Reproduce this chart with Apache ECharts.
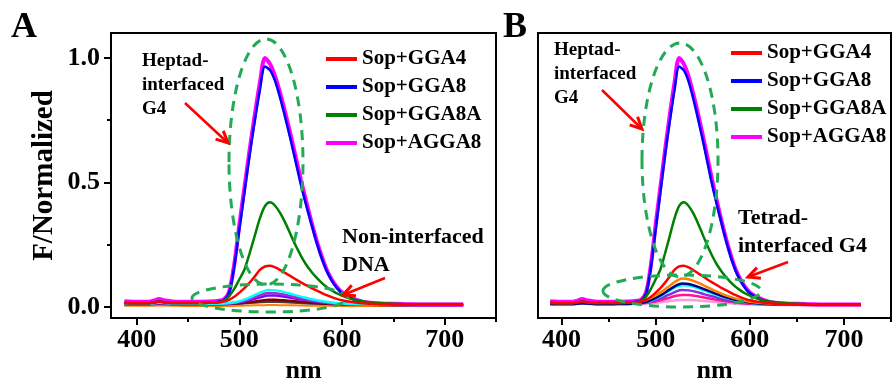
<!DOCTYPE html>
<html>
<head>
<meta charset="utf-8">
<script src="https://cdn.jsdelivr.net/npm/echarts@6/dist/echarts.min.js"></script>
<style>html,body{margin:0;padding:0;background:#fff}#c{width:893px;height:379px}</style>
</head>
<body>
<div id="c"></div>
<script>
// ---------- DATA ----------
const wl = [388, 400, 410, 416, 422, 428, 440, 455, 470,
  480, 485, 490, 495, 500, 505, 510, 515, 520, 525, 530, 535, 540, 545, 550, 555, 560,
  565, 570, 575, 580, 585, 590, 595, 600, 605, 610, 615, 620, 625, 630, 635, 640,
  660, 690, 718];
const sopAGGA8 = [0.022, 0.02, 0.02, 0.024, 0.031, 0.025, 0.02, 0.02, 0.021,
  0.024, 0.03, 0.06, 0.17, 0.33, 0.48, 0.63, 0.77, 0.9, 1.0, 0.975, 0.925, 0.855, 0.775, 0.69, 0.6, 0.51,
  0.425, 0.345, 0.27, 0.205, 0.15, 0.11, 0.08, 0.058, 0.045, 0.035, 0.027, 0.021, 0.017, 0.015, 0.014, 0.013,
  0.011, 0.009, 0.009];
const sopGGA8 = [0.015, 0.014, 0.014, 0.017, 0.021, 0.017, 0.015, 0.015, 0.016,
  0.02, 0.027, 0.055, 0.16, 0.31, 0.46, 0.61, 0.745, 0.87, 0.965, 0.95, 0.905, 0.835, 0.755, 0.67, 0.58, 0.49,
  0.41, 0.335, 0.262, 0.198, 0.145, 0.105, 0.076, 0.055, 0.042, 0.032, 0.025, 0.019, 0.015, 0.013, 0.012, 0.011,
  0.01, 0.008, 0.008];
const sopGGA8A = [0.015, 0.014, 0.014, 0.017, 0.021, 0.017, 0.015, 0.015, 0.016,
  0.018, 0.025, 0.042, 0.072, 0.11, 0.15, 0.215, 0.285, 0.355, 0.405, 0.42, 0.405, 0.375, 0.335, 0.29, 0.245, 0.205,
  0.17, 0.142, 0.118, 0.097, 0.08, 0.066, 0.054, 0.045, 0.037, 0.031, 0.026, 0.022, 0.019, 0.017, 0.015, 0.014,
  0.011, 0.009, 0.008];
const sopGGA4 = [0.015, 0.014, 0.014, 0.017, 0.021, 0.017, 0.015, 0.015, 0.016,
  0.018, 0.022, 0.028, 0.04, 0.057, 0.075, 0.097, 0.122, 0.148, 0.162, 0.165, 0.158, 0.147, 0.135, 0.123, 0.11, 0.098,
  0.087, 0.076, 0.066, 0.056, 0.047, 0.039, 0.032, 0.026, 0.022, 0.019, 0.016, 0.014, 0.013, 0.012, 0.011, 0.011,
  0.01, 0.008, 0.008];

const wlm = [388, 410, 422, 440, 460, 475, 488, 498, 507, 515, 522, 528, 535, 543, 552, 562, 573, 586, 600, 620, 650, 690, 718];
// panel A, non-interfaced DNA
const aCyan   = [0.012, 0.012, 0.016, 0.012, 0.012, 0.012, 0.014, 0.02, 0.032, 0.047, 0.06, 0.067, 0.066, 0.06, 0.05, 0.039, 0.028, 0.019, 0.013, 0.01, 0.008, 0.007, 0.007];
const aOrchid = [0.012, 0.012, 0.015, 0.012, 0.012, 0.012, 0.013, 0.017, 0.027, 0.039, 0.049, 0.055, 0.054, 0.049, 0.041, 0.032, 0.023, 0.016, 0.011, 0.009, 0.007, 0.006, 0.006];
const aViolet = [0.012, 0.012, 0.015, 0.012, 0.012, 0.012, 0.013, 0.016, 0.023, 0.032, 0.04, 0.045, 0.045, 0.041, 0.035, 0.028, 0.021, 0.015, 0.011, 0.009, 0.007, 0.006, 0.006];
const aMaroon = [0.01, 0.01, 0.012, 0.01, 0.01, 0.01, 0.011, 0.013, 0.017, 0.021, 0.025, 0.028, 0.028, 0.026, 0.023, 0.019, 0.015, 0.012, 0.009, 0.008, 0.007, 0.006, 0.006];
const aOrange = [0.004, 0.004, 0.005, 0.004, 0.003, 0.003, 0.003, 0.004, 0.005, 0.006, 0.006, 0.007, 0.007, 0.006, 0.006, 0.005, 0.004, 0.004, 0.003, 0.003, 0.003, 0.003, 0.003];
const aGray   = [0.014, 0.013, 0.018, 0.013, 0.013, 0.013, 0.013, 0.014, 0.016, 0.018, 0.02, 0.021, 0.021, 0.02, 0.018, 0.016, 0.014, 0.013, 0.012, 0.011, 0.01, 0.01, 0.01];
// panel B, tetrad-interfaced G4
const bOrange = [0.018, 0.018, 0.024, 0.018, 0.018, 0.019, 0.025, 0.042, 0.062, 0.085, 0.104, 0.114, 0.111, 0.1, 0.084, 0.066, 0.048, 0.032, 0.02, 0.013, 0.01, 0.009, 0.009];
const bNavy   = [0.01, 0.01, 0.014, 0.01, 0.011, 0.012, 0.017, 0.032, 0.05, 0.07, 0.086, 0.094, 0.092, 0.083, 0.07, 0.055, 0.04, 0.027, 0.017, 0.011, 0.009, 0.008, 0.008];
const bCyan   = [0.012, 0.012, 0.015, 0.012, 0.012, 0.013, 0.017, 0.03, 0.046, 0.065, 0.08, 0.087, 0.085, 0.077, 0.065, 0.051, 0.037, 0.025, 0.016, 0.011, 0.009, 0.008, 0.008];
const bViolet = [0.012, 0.012, 0.015, 0.012, 0.012, 0.013, 0.016, 0.025, 0.037, 0.05, 0.062, 0.067, 0.066, 0.06, 0.05, 0.04, 0.029, 0.02, 0.014, 0.01, 0.008, 0.007, 0.007];
const bPink   = [0.012, 0.012, 0.015, 0.012, 0.012, 0.013, 0.015, 0.02, 0.028, 0.037, 0.044, 0.047, 0.047, 0.043, 0.037, 0.03, 0.023, 0.017, 0.012, 0.01, 0.008, 0.007, 0.007];
const bLight  = [0.01, 0.01, 0.012, 0.01, 0.01, 0.011, 0.012, 0.015, 0.019, 0.023, 0.026, 0.027, 0.027, 0.026, 0.023, 0.02, 0.016, 0.012, 0.01, 0.008, 0.007, 0.006, 0.006];

const legendNames = ['Sop+GGA4', 'Sop+GGA8', 'Sop+GGA8A', 'Sop+AGGA8'];
const xTicks = [400, 500, 600, 700];
const xMinor = [450, 550, 650, 750];
const yTicks = [0, 0.5, 1.0];
const yMinor = [0.25, 0.75];

// ---------- CHART ----------
const FONT = '"Liberation Serif", "Times New Roman", serif';
const chart = echarts.init(document.getElementById('c'), null, {renderer: 'canvas'});

function pts(xs, ys) { return xs.map((x, i) => [x, ys[i]]); }
function ser(name, grid, xs, ys, color, width, z) {
  return {
    name: name, type: 'line', xAxisIndex: grid * 2, yAxisIndex: grid * 2,
    data: pts(xs, ys), smooth: 0.3, showSymbol: false, symbol: 'none',
    color: color, lineStyle: {color: color, width: width}, z: z || 2,
    silent: true, animation: false
  };
}

function xAxes(grid) {
  return [{
    type: 'value', gridIndex: grid, min: 375, max: 750, position: 'bottom',
    axisLine: {show: true, onZero: false, lineStyle: {color: '#000', width: 2}},
    axisTick: {show: true, customValues: xTicks, length: 7, lineStyle: {color: '#000', width: 2}},
    axisLabel: {show: true, customValues: xTicks, margin: 9, color: '#000', fontFamily: FONT, fontWeight: 'bold', fontSize: 26},
    splitLine: {show: false},
    name: 'nm', nameLocation: 'middle', nameGap: 32,
    nameTextStyle: {color: '#000', fontFamily: FONT, fontWeight: 'bold', fontSize: 26}
  }, {
    type: 'value', gridIndex: grid, min: 375, max: 750, position: 'bottom', offset: 0,
    axisLine: {show: false, onZero: false},
    axisTick: {show: true, customValues: xMinor, length: 4, lineStyle: {color: '#000', width: 2}},
    axisLabel: {show: false}, splitLine: {show: false}
  }];
}
function yAxes(grid, labels) {
  return [{
    type: 'value', gridIndex: grid, min: -0.045, max: 1.1, position: 'left',
    axisLine: {show: true, onZero: false, lineStyle: {color: '#000', width: 2}},
    axisTick: {show: labels, customValues: yTicks, length: 7, lineStyle: {color: '#000', width: 2}},
    axisLabel: {show: labels, customValues: yTicks, margin: 11, formatter: v => v.toFixed(1), color: '#000', fontFamily: FONT, fontWeight: 'bold', fontSize: 26},
    splitLine: {show: false},
    name: labels ? 'F/Normalized' : '', nameLocation: 'middle', nameGap: 52,
    nameTextStyle: {color: '#000', fontFamily: FONT, fontWeight: 'bold', fontSize: 29}
  }, {
    type: 'value', gridIndex: grid, min: -0.045, max: 1.1, position: 'left', offset: 0,
    axisLine: {show: false, onZero: false},
    axisTick: {show: labels, customValues: yMinor, length: 4, lineStyle: {color: '#000', width: 2}},
    axisLabel: {show: false}, splitLine: {show: false}
  }];
}

const series = [
  // Panel A minor
  ser('A-orange', 0, wlm, aOrange, '#ff8000', 2),
  ser('A-gray', 0, wlm, aGray, '#404040', 3),
  ser('A-maroon', 0, wlm, aMaroon, '#800000', 2.5),
  ser('A-violet', 0, wlm, aViolet, '#7f00ff', 2.5),
  ser('A-orchid', 0, wlm, aOrchid, '#9932cc', 2.5),
  ser('A-cyan', 0, wlm, aCyan, '#00ffff', 2.5),
  // Panel A main
  ser('Sop+AGGA8', 0, wl, sopAGGA8, '#ff00ff', 4, 3),
  ser('Sop+GGA8', 0, wl, sopGGA8, '#0000ff', 2.5, 4),
  ser('Sop+GGA8A', 0, wl, sopGGA8A, '#008000', 2.5, 4),
  ser('Sop+GGA4', 0, wl, sopGGA4, '#ff0000', 2.5, 4),
  // Panel B minor
  ser('B-light', 1, wlm, bLight, '#ff99dd', 2.5),
  ser('B-pink', 1, wlm, bPink, '#ff1493', 2.5),
  ser('B-violet', 1, wlm, bViolet, '#8a2be2', 2.5),
  ser('B-cyan', 1, wlm, bCyan, '#00ffff', 2.5),
  ser('B-navy', 1, wlm, bNavy, '#000080', 2.5),
  ser('B-orange', 1, wlm, bOrange, '#ff8000', 2.5),
  // Panel B main
  ser('Sop+AGGA8', 1, wl, sopAGGA8, '#ff00ff', 4, 3),
  ser('Sop+GGA8', 1, wl, sopGGA8, '#0000ff', 2.5, 4),
  ser('Sop+GGA8A', 1, wl, sopGGA8A, '#008000', 2.5, 4),
  ser('Sop+GGA4', 1, wl, sopGGA4, '#ff0000', 2.5, 4)
];

function legend(left, top) {
  return {
    data: legendNames, orient: 'vertical', left: left, top: top,
    icon: 'rect', itemWidth: 31, itemHeight: 4, itemGap: 6,
    selectedMode: false,
    textStyle: {color: '#000', fontFamily: FONT, fontWeight: 'bold', fontSize: 21, lineHeight: 22, padding: [0, 0, 0, 0]}
  };
}

// ---------- ANNOTATIONS ----------
const GREEN = '#22aa55';
const RED = '#ff0000';
function ellipse(cx, cy, rx, ry) {
  return {type: 'ellipse', shape: {cx, cy, rx, ry}, silent: true, z: 10,
    style: {fill: 'none', stroke: GREEN, lineWidth: 3, lineDash: [10, 7]}};
}
function arrow(x1, y1, x2, y2) {
  const a = Math.atan2(y2 - y1, x2 - x1), L = 13, w = 0.45;
  return [
    {type: 'line', shape: {x1, y1, x2, y2}, silent: true, z: 11, style: {stroke: RED, lineWidth: 2.5}},
    {type: 'polyline', silent: true, z: 11, shape: {points: [
      [x2 - L * Math.cos(a - w), y2 - L * Math.sin(a - w)], [x2, y2],
      [x2 - L * Math.cos(a + w), y2 - L * Math.sin(a + w)]]},
      style: {stroke: RED, lineWidth: 3, fill: 'none'}}
  ];
}
function txt(s, x, y, size) {
  return {type: 'text', x: x, y: y, silent: true, z: 12,
    style: {text: s, fill: '#000', font: 'bold ' + size + 'px ' + FONT, textAlign: 'left', textVerticalAlign: 'middle'}};
}

const graphic = [
  txt('A', 11, 28, 36), txt('B', 503, 28, 36),
  ellipse(266, 162, 37, 123), ellipse(270, 298, 78, 14),
  ellipse(680, 160, 38, 117), ellipse(682, 291, 79, 16),
  ...arrow(185, 103, 228, 143), ...arrow(385, 278, 343, 295),
  ...arrow(602, 90, 642, 129), ...arrow(788, 262, 748, 277),
  txt('Heptad-', 142, 61, 19), txt('interfaced', 142, 85, 19), txt('G4', 142, 109, 19),
  txt('Non-interfaced', 342, 237, 22), txt('DNA', 342, 265, 22),
  txt('Heptad-', 554, 50, 19), txt('interfaced', 554, 74, 19), txt('G4', 554, 98, 19),
  txt('Tetrad-', 738, 218, 22), txt('interfaced G4', 738, 246, 22)
];

chart.setOption({
  animation: false,
  backgroundColor: '#fff',
  grid: [
    {left: 111, top: 33, width: 385, height: 285, show: true, borderColor: '#000', borderWidth: 2, backgroundColor: 'transparent', containLabel: false, outerBoundsMode: 'none'},
    {left: 538, top: 33, width: 353, height: 285, show: true, borderColor: '#000', borderWidth: 2, backgroundColor: 'transparent', containLabel: false, outerBoundsMode: 'none'}
  ],
  xAxis: [...xAxes(0), ...xAxes(1)],
  yAxis: [...yAxes(0, true), ...yAxes(1, false)],
  legend: [legend(321, 43), legend(726, 37)],
  series: series,
  graphic: graphic
});
</script>
</body>
</html>
